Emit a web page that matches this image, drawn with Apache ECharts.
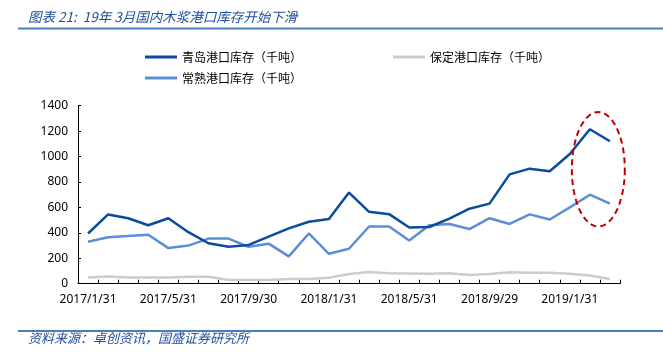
<!DOCTYPE html>
<html><head><meta charset="utf-8">
<script src="https://cdn.jsdelivr.net/npm/echarts@6/dist/echarts.min.js"></script>
<style>html,body{margin:0;padding:0;background:#fff;}#c{width:663px;height:356px;}</style>
</head><body><div id="c"></div>
<script>
const categories = ['2017/1/31','2017/2/28','2017/3/31','2017/4/30','2017/5/31','2017/6/30','2017/7/31','2017/8/31','2017/9/30','2017/10/31','2017/11/30','2017/12/31',
 '2018/1/31','2018/2/28','2018/3/31','2018/4/30','2018/5/31','2018/6/30','2018/7/31','2018/8/31','2018/9/29','2018/10/31','2018/11/30','2018/12/31',
 '2019/1/31','2019/2/28','2019/3/31'];
const qingdao = [395,545,515,460,515,405,318,290,305,370,435,487,508,717,565,547,442,446,512,590,630,860,905,885,1020,1215,1120];
const changshu = [330,365,375,385,280,300,355,355,290,315,215,395,235,275,450,450,340,460,470,430,515,470,545,505,600,700,630];
const baoding = [49,57,49,49,49,55,55,29,29,29,37,37,47,76,92,83,81,78,83,68,76,90,86,86,78,65,37];
const yTicks = {min:0, max:1400, interval:200};
const names = ['青岛港口库存（千吨）','保定港口库存（千吨）','常熟港口库存（千吨）'];

const chart = echarts.init(document.getElementById('c'));
const blue = '#1f4e9c';
const lg = (name, left, topPos) => ({data:[name], left, top:topPos, icon:'rect', itemWidth:32, itemHeight:3, itemGap:5,
  textStyle:{fontFamily:'Noto Sans CJK SC', fontSize:12, color:'#000'}, selectedMode:false});
chart.setOption({
  animation:false,
  backgroundColor:'#fff',
  title:{text:'图表 21:  19年 3月国内木浆港口库存开始下滑', left:23, top:5,
    textStyle:{fontFamily:'Noto Sans CJK SC', fontStyle:'italic', fontWeight:'normal', fontSize:13.5, color:blue}},
  legend:[lg(names[0],140,46), lg(names[1],388,46), lg(names[2],140,67)],
  grid:{left:78, right:43, top:105.7, bottom:72.3, containLabel:false},
  xAxis:{type:'category', data:categories, boundaryGap:true,
    axisLine:{lineStyle:{color:'#000', width:1}},
    axisTick:{show:true, inside:true, length:4, interval:0, lineStyle:{color:'#000'}},
    axisLabel:{interval:3, color:'#000', fontFamily:'Noto Sans', fontSize:12, margin:10}},
  yAxis:{type:'value', min:yTicks.min, max:yTicks.max, interval:yTicks.interval,
    axisLine:{show:true, lineStyle:{color:'#000', width:1}},
    axisTick:{show:true, inside:true, length:3, lineStyle:{color:'#000'}},
    splitLine:{show:false},
    axisLabel:{color:'#000', fontFamily:'Noto Sans', fontSize:12, margin:10, formatter:v => String(v)}},
  series:[
    {name:names[1], type:'line', data:baoding, symbol:'none', lineStyle:{color:'#cccccc', width:2.5}, itemStyle:{color:'#cccccc'}},
    {name:names[2], type:'line', data:changshu, symbol:'none', lineStyle:{color:'#5b8ed6', width:2.5}, itemStyle:{color:'#5b8ed6'}},
    {name:names[0], type:'line', data:qingdao, symbol:'none', lineStyle:{color:'#0b4a9e', width:2.5}, itemStyle:{color:'#0b4a9e'}, z:3}
  ]
});
// annotation: dashed ellipse around last two months, plus header/footer rules
const p25 = chart.convertToPixel({gridIndex:0}, [25, 900]);
const p26 = chart.convertToPixel({gridIndex:0}, [26, 900]);
const pTop = chart.convertToPixel({gridIndex:0}, [25, 1350]);
const cx = p25[0] + 0.42*(p26[0]-p25[0]);
const cy = p25[1];
const rx = 1.32*(p26[0]-p25[0]);
const ry = cy - pTop[1];
const pts = [];
for (let i=0;i<96;i++){ const a = i/96*Math.PI*2; pts.push([cx+rx*Math.cos(a), cy+ry*Math.sin(a)]); }
chart.setOption({graphic:[
  {type:'polygon', shape:{points:pts}, style:{fill:'none', stroke:'#c00000', lineWidth:2, lineDash:[6,4]}, z:10},
  {type:'line', shape:{x1:18,y1:28.5,x2:663,y2:28.5}, style:{stroke:'#4a7ebb', lineWidth:2}},
  {type:'line', shape:{x1:18,y1:331,x2:663,y2:331}, style:{stroke:'#4a7ebb', lineWidth:2}},
  {type:'text', left:28, top:332, style:{text:'资料来源：卓创资讯，国盛证券研究所', fontFamily:'Noto Sans CJK SC', fontStyle:'italic', fontSize:13, fill:blue}}
]});
</script></body></html>
